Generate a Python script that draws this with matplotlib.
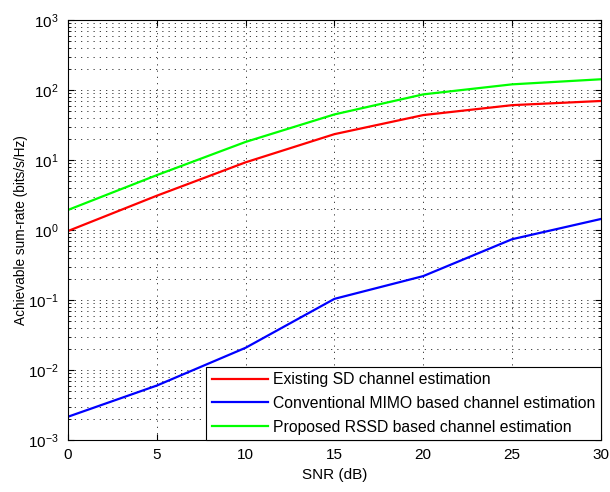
import numpy as np
import matplotlib
matplotlib.use("Agg")
import matplotlib.pyplot as plt
from matplotlib.ticker import LogLocator, NullFormatter

plt.rcParams['font.family'] = ['Liberation Sans', 'DejaVu Sans']
plt.rcParams['mathtext.fontset'] = 'custom'
plt.rcParams['mathtext.rm'] = 'Liberation Sans'

snr_db = [0, 5, 10, 15, 20, 25, 30]
# existing SD channel estimation
rate_sd = [0.97, 3.1, 9.3, 23.5, 44, 61, 70]
# conventional MIMO
rate_mimo = [0.00215, 0.006, 0.0208, 0.104, 0.22, 0.74, 1.44]
# proposed RSSD
rate_rssd = [1.94, 6.1, 18.2, 45, 87, 121, 143]

labels = [
    "Existing SD channel estimation",
    "Conventional MIMO based channel estimation",
    "Proposed RSSD based channel estimation",
]

fig = plt.figure(figsize=(6.1, 4.92), dpi=100)
ax = fig.add_axes([0.1115, 0.1057, 0.8735, 0.8533])

ax.semilogy(snr_db, rate_sd, color='red', lw=1.6, label=labels[0])
ax.semilogy(snr_db, rate_mimo, color='blue', lw=1.6, label=labels[1])
ax.semilogy(snr_db, rate_rssd, color='#00ff00', lw=1.6, label=labels[2])

ax.set_xlim(0, 30)
ax.set_ylim(1e-3, 1e3)
ax.set_xticks([0, 5, 10, 15, 20, 25, 30])
ax.yaxis.set_major_locator(LogLocator(base=10, numticks=10))
ax.yaxis.set_minor_locator(LogLocator(base=10, subs=np.arange(2, 10), numticks=20))
ax.yaxis.set_minor_formatter(NullFormatter())

dots = (0, (1.5, 6))
ax.grid(True, which='major', ls=dots, color='#222222', lw=0.6)
ax.grid(True, which='minor', axis='y', ls=dots, color='#222222', lw=0.6)

ax.tick_params(which='both', direction='in', top=True, right=True, labelsize=11)
ax.tick_params(which='major', length=4)
ax.tick_params(which='minor', length=2)
ax.tick_params(axis='y', pad=7)
ax.tick_params(axis='x', pad=6)
for s in ax.spines.values():
    s.set_linewidth(0.8)

ax.set_xlabel("SNR (dB)", fontsize=11, labelpad=4)
ax.set_ylabel("Achievable sum-rate (bits/s/Hz)", fontsize=9.8, labelpad=0)

leg = ax.legend(loc='lower right', fontsize=11.3, fancybox=False, framealpha=1,
                edgecolor='black', borderaxespad=0, handlelength=3.6,
                labelspacing=0.55, borderpad=0.35, handletextpad=0.3)
leg.get_frame().set_linewidth(0.8)

fig.savefig("out.png", dpi=100)
